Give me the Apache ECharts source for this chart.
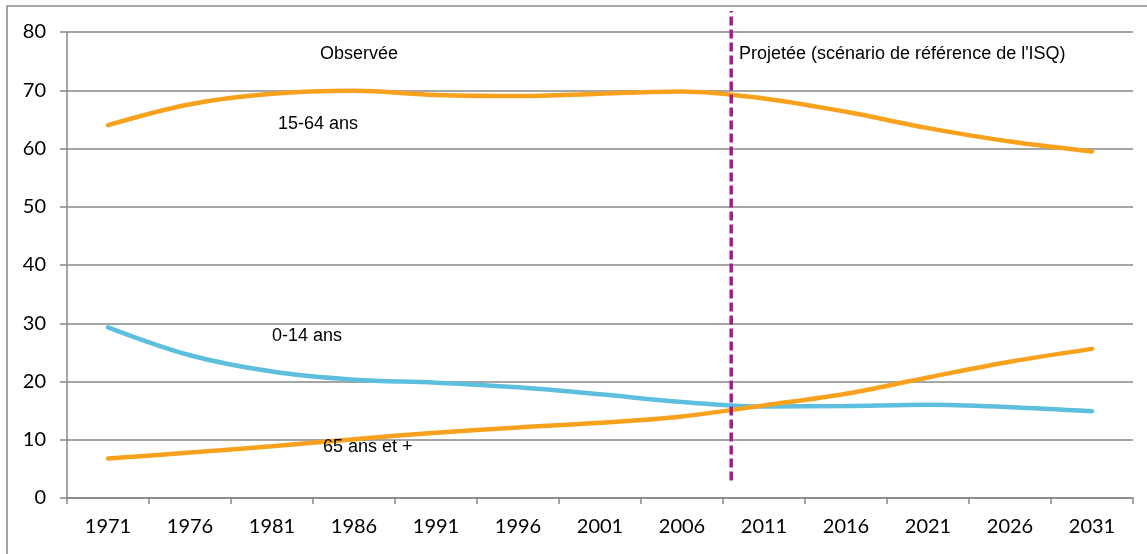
<!DOCTYPE html>
<html>
<head>
<meta charset="utf-8">
<script src="https://cdn.jsdelivr.net/npm/echarts@6/dist/echarts.min.js"></script>
<style>
  html, body { margin: 0; padding: 0; background: #fff; }
  #chart { width: 1147px; height: 554px; }
</style>
</head>
<body>
<div id="chart"></div>
<script>
// Years on the category axis
const years = ['1971', '1976', '1981', '1986', '1991', '1996', '2001', '2006', '2011', '2016', '2021', '2026', '2031'];
// Share of the population by age group (%)
const age15to64 = [64.0, 67.6, 69.4, 69.9, 69.2, 69.0, 69.4, 69.8, 68.6, 66.3, 63.5, 61.2, 59.5];
const age0to14  = [29.3, 24.5, 21.7, 20.3, 19.8, 19.0, 17.8, 16.5, 15.7, 15.8, 16.0, 15.6, 14.9];
const age65plus = [6.8, 7.8, 8.9, 10.1, 11.2, 12.1, 12.9, 14.0, 15.9, 17.9, 20.7, 23.4, 25.6];
// Y axis range
const yMin = 0, yMax = 80, yStep = 10;
// Boundary between observed and projected data
const dividerYear = 2009;
const dividerSpan = [3, 83.6];

const dividerIndex = (dividerYear - Number(years[0])) / 5;

const gridColor = '#878787';
const orange = '#F8A11C';
const blue = '#5DBEDD';
const purple = '#A21C8E';
const axisFont = 'Lato, "Open Sans", sans-serif';
const noteFont = '"Liberation Sans", Arial, sans-serif';

const chart = echarts.init(document.getElementById('chart'), null, { renderer: 'canvas' });

chart.setOption({
  backgroundColor: '#ffffff',
  animation: false,
  grid: { left: 67, right: 14, top: 32, bottom: 56, containLabel: false },
  xAxis: [
    {
      type: 'category',
      data: years,
      boundaryGap: true,
      axisLine: { lineStyle: { color: gridColor, width: 1.5 } },
      axisTick: { show: true, length: 6, inside: false, lineStyle: { color: gridColor, width: 1.5 } },
      axisLabel: { color: '#000', fontFamily: axisFont, fontSize: 20, margin: 19 },
      splitLine: { show: false }
    },
    {
      type: 'value',
      min: -0.5,
      max: years.length - 0.5,
      show: false
    }
  ],
  yAxis: {
    type: 'value',
    min: yMin,
    max: yMax,
    interval: yStep,
    axisLine: { show: true, onZero: false, lineStyle: { color: gridColor, width: 1.5 } },
    axisTick: { show: true, length: 7, lineStyle: { color: gridColor, width: 1.5 } },
    axisLabel: { color: '#000', fontFamily: axisFont, fontSize: 20, margin: 21 },
    splitLine: { show: true, lineStyle: { color: gridColor, width: 1.5 } }
  },
  series: [
    {
      name: '15-64 ans',
      type: 'line',
      data: age15to64,
      smooth: 0.35,
      symbol: 'none',
      lineStyle: { color: orange, width: 4.5, cap: 'round' }
    },
    {
      name: '0-14 ans',
      type: 'line',
      data: age0to14,
      smooth: 0.35,
      symbol: 'none',
      lineStyle: { color: blue, width: 4.5, cap: 'round' }
    },
    {
      name: '65 ans et +',
      type: 'line',
      data: age65plus,
      smooth: 0.35,
      symbol: 'none',
      z: 3,
      lineStyle: { color: orange, width: 4.5, cap: 'round' }
    },
    {
      name: 'divider',
      type: 'line',
      xAxisIndex: 1,
      data: [[dividerIndex, dividerSpan[0]], [dividerIndex, dividerSpan[1]]],
      symbol: 'none',
      clip: false,
      z: 4,
      lineStyle: { color: purple, width: 3.5, type: [9, 4] }
    }
  ],
  graphic: [
    {
      type: 'rect',
      shape: { x: 7, y: 6, width: 1300, height: 700 },
      style: { fill: 'none', stroke: '#8a8a8a', lineWidth: 1.5 },
      silent: true, z: -1
    },
    { type: 'text', left: 320, top: 45, style: { text: 'Observée', font: '18px ' + noteFont, fill: '#000' } },
    { type: 'text', left: 739, top: 45, style: { text: "Projetée (scénario de référence de l'ISQ)", font: '18px ' + noteFont, fill: '#000' } },
    { type: 'text', left: 278, top: 115, style: { text: '15-64 ans', font: '18px ' + noteFont, fill: '#000' } },
    { type: 'text', left: 272, top: 327, style: { text: '0-14 ans', font: '18px ' + noteFont, fill: '#000' } },
    { type: 'text', left: 323, top: 438, style: { text: '65 ans et +', font: '18px ' + noteFont, fill: '#000' }, z: 10 }
  ]
});
</script>
</body>
</html>
